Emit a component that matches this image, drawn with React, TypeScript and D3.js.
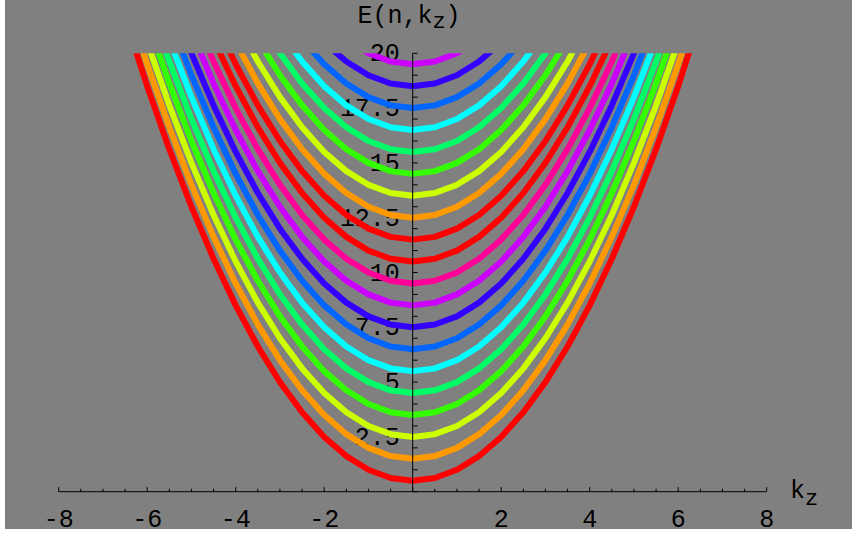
import React from "react";
import * as d3 from "d3";

// Landau level minima E(n, 0) = n + 1/2
const levelMinima: number[] = [0.5, 1.5, 2.5, 3.5, 4.5, 5.5, 6.5, 7.5, 8.5, 9.5, 10.5, 11.5, 12.5, 13.5, 14.5, 15.5, 16.5, 17.5, 18.5, 19.5];
// Mathematica Hue[] values cycling 0, 0.1, ..., 1.0
const hueCycle: number[] = [0, 0.1, 0.2, 0.3, 0.4, 0.5, 0.6, 0.7, 0.8, 0.9, 1.0];
// sampled k_z values
const kzSamples: number[] = [-8, -7.5, -7, -6.5, -6, -5.5, -5, -4.5, -4, -3.5, -3, -2.5, -2, -1.5, -1, -0.5, 0, 0.5, 1, 1.5, 2, 2.5, 3, 3.5, 4, 4.5, 5, 5.5, 6, 6.5, 7, 7.5, 8];
const xTickLabels: number[] = [-8, -6, -4, -2, 2, 4, 6, 8];
const yTickLabels: string[] = ["2.5", "5", "7.5", "10", "12.5", "15", "17.5", "20"];

const W = 854;
const H = 535;
const FONT = "'Liberation Mono', 'Courier New', monospace";

export default function App() {
  const x = d3.scaleLinear().domain([-8, 8]).range([58.7, 766.7]);
  const y = d3.scaleLinear().domain([0, 20]).range([491.7, 53.3]);
  const x0 = x(0);
  const y0 = y(0);

  const line = d3
    .line<number[]>()
    .x((d) => x(d[0]))
    .y((d) => y(d[1]))
    .curve(d3.curveLinear);

  const hueColor = (h: number) => d3.hsl((h % 1) * 360, 1, 0.5).formatHex();

  const xMinor = d3.range(-8, 8.0001, 0.5);
  const yMinor = d3.range(0, 20.0001, 1);

  return (
    <svg width={W} height={H} style={{ position: "absolute", left: 0, top: 0 }}>
      <defs>
        <clipPath id="plotClip">
          <rect x={x(-8)} y={y(20)} width={x(8) - x(-8)} height={y(0) - y(20)} />
        </clipPath>
      </defs>
      <rect x={0} y={0} width={W} height={H} fill="#ffffff" />
      <rect x={5} y={0} width={847} height={529} fill="#808080" />

      {/* y tick labels (under curves) */}
      <g fontFamily={FONT} fontSize={25} fill="#000">
        {yTickLabels.map((t) => (
          <text key={t} x={x0 - 13} y={y(+t) + 8} textAnchor="end">
            {t}
          </text>
        ))}
      </g>

      {/* curves */}
      <g clipPath="url(#plotClip)">
        {levelMinima.map((e0, i) => (
          <path
            key={i}
            d={line(kzSamples.map((k) => [k, e0 + (k * k) / 2])) || ""}
            fill="none"
            stroke={hueColor(hueCycle[i % hueCycle.length])}
            strokeWidth={6}
            strokeLinejoin="round"
          />
        ))}
      </g>

      {/* axes */}
      <g stroke="#000" strokeWidth={1} fill="none">
        <line x1={x(-8)} x2={x(8)} y1={y0} y2={y0} />
        <line x1={x0} x2={x0} y1={y(0)} y2={y(20)} />
        {xMinor.map((v, i) => (
          <line key={"xt" + i} x1={x(v)} x2={x(v)} y1={y0} y2={y0 - (Math.abs(v % 2) < 1e-6 ? 4.5 : 3)} />
        ))}
        {yMinor.map((v, i) => (
          <line key={"yt" + i} x1={x0} x2={x0 + 5} y1={y(v)} y2={y(v)} />
        ))}
      </g>

      {/* x tick labels */}
      <g fontFamily={FONT} fontSize={25} fill="#000">
        {xTickLabels.map((t) => (
          <text key={t} x={x(t)} y={y0 + 35} textAnchor="middle">
            {t < 0 ? "-" + Math.abs(t) : String(t)}
          </text>
        ))}
      </g>

      {/* axis labels */}
      <text x={790} y={498} fontFamily={FONT} fontSize={25} fill="#000">
        k
        <tspan fontSize={22} dy={7}>z</tspan>
      </text>
      <text x={409} y={23} fontFamily={FONT} fontSize={25} fill="#000" textAnchor="middle">
        E(n,k
        <tspan fontSize={22} dy={5}>z</tspan>
        <tspan dy={-5}>)</tspan>
      </text>
    </svg>
  );
}
